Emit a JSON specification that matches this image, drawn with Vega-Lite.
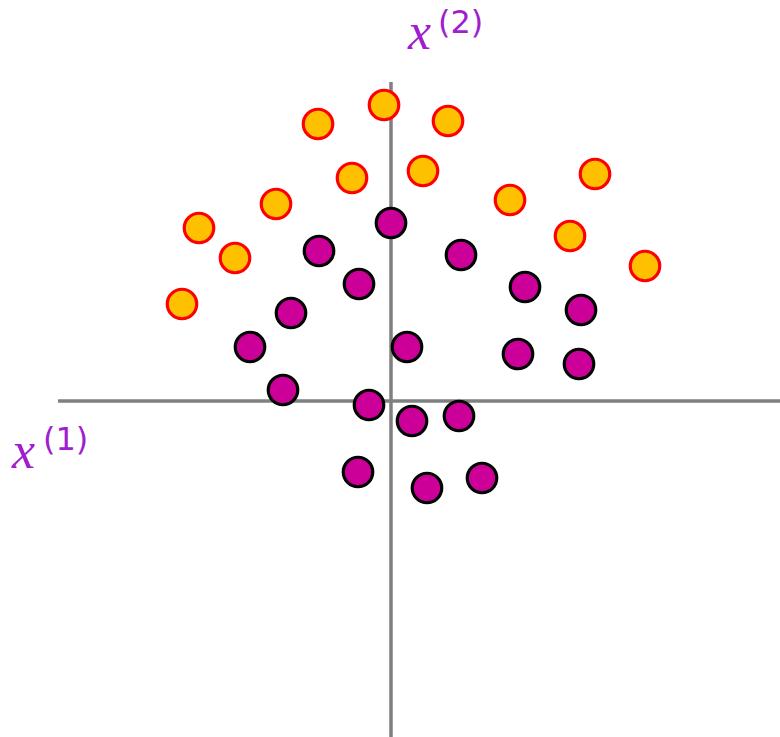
{
  "$schema": "https://vega.github.io/schema/vega-lite/v6.json",
  "width": 780,
  "height": 737,
  "autosize": "none",
  "padding": 0,
  "background": "white",
  "config": {"view": {"stroke": null}},
  "datasets": {
    "axes": [
      {"x1": -333, "x2": 389, "y1": 0, "y2": 0},
      {"x1": 0, "x2": 0, "y1": 319, "y2": -340}
    ],
    "points": [
      {"x1v": -7, "x2v": 296, "cls": "A"},
      {"x1v": -73, "x2v": 277, "cls": "A"},
      {"x1v": 57, "x2v": 280, "cls": "A"},
      {"x1v": -39, "x2v": 223, "cls": "A"},
      {"x1v": 32, "x2v": 230, "cls": "A"},
      {"x1v": -115, "x2v": 197, "cls": "A"},
      {"x1v": -192, "x2v": 173, "cls": "A"},
      {"x1v": -156, "x2v": 143, "cls": "A"},
      {"x1v": -209, "x2v": 97, "cls": "A"},
      {"x1v": 119, "x2v": 201, "cls": "A"},
      {"x1v": 204, "x2v": 227, "cls": "A"},
      {"x1v": 179, "x2v": 165, "cls": "A"},
      {"x1v": 254, "x2v": 135, "cls": "A"},
      {"x1v": 0, "x2v": 178, "cls": "B"},
      {"x1v": -72, "x2v": 150, "cls": "B"},
      {"x1v": 70, "x2v": 146, "cls": "B"},
      {"x1v": -32, "x2v": 117, "cls": "B"},
      {"x1v": 134, "x2v": 114, "cls": "B"},
      {"x1v": 190, "x2v": 91, "cls": "B"},
      {"x1v": -100, "x2v": 88, "cls": "B"},
      {"x1v": -141, "x2v": 54, "cls": "B"},
      {"x1v": 16, "x2v": 54, "cls": "B"},
      {"x1v": 127, "x2v": 47, "cls": "B"},
      {"x1v": 188, "x2v": 37, "cls": "B"},
      {"x1v": -108, "x2v": 11, "cls": "B"},
      {"x1v": -22, "x2v": -4, "cls": "B"},
      {"x1v": 21, "x2v": -20, "cls": "B"},
      {"x1v": 68, "x2v": -15, "cls": "B"},
      {"x1v": -33, "x2v": -71, "cls": "B"},
      {"x1v": 36, "x2v": -87, "cls": "B"},
      {"x1v": 91, "x2v": -77, "cls": "B"}
    ],
    "bigLabels": [
      {"lx": 17, "ly": 352, "t": "x"},
      {"lx": -379, "ly": -67, "t": "x"}
    ],
    "supLabels": [
      {"lx": 47, "ly": 368, "t": "(2)"},
      {"lx": -348, "ly": -49, "t": "(1)"}
    ]
  },
  "layer": [
    {
      "data": {"name": "axes"},
      "mark": {"type": "rule", "stroke": "#808080", "strokeWidth": 3.5},
      "encoding": {
        "x": {"field": "x1", "type": "quantitative", "scale": {"domain": [-391, 389], "range": [0, 780], "nice": false, "zero": false}, "axis": null},
        "x2": {"field": "x2"},
        "y": {"field": "y1", "type": "quantitative", "scale": {"domain": [-336, 401], "range": [737, 0], "nice": false, "zero": false}, "axis": null},
        "y2": {"field": "y2"}
      }
    },
    {
      "data": {"name": "points"},
      "mark": {"type": "point", "shape": "circle", "filled": true, "size": 870, "strokeWidth": 3.2, "opacity": 1, "fillOpacity": 1, "strokeOpacity": 1},
      "encoding": {
        "x": {"field": "x1v", "type": "quantitative", "axis": null},
        "y": {"field": "x2v", "type": "quantitative", "axis": null},
        "fill": {"field": "cls", "type": "nominal", "scale": {"domain": ["A", "B"], "range": ["#FFC000", "#CC0099"]}, "legend": null},
        "stroke": {"field": "cls", "type": "nominal", "scale": {"domain": ["A", "B"], "range": ["#FF0000", "#000000"]}, "legend": null}
      }
    },
    {
      "data": {"name": "bigLabels"},
      "mark": {"type": "text", "align": "left", "baseline": "alphabetic", "font": "Liberation Serif", "fontStyle": "italic", "fontSize": 52, "fill": "#A01ED0"},
      "encoding": {
        "x": {"field": "lx", "type": "quantitative", "axis": null},
        "y": {"field": "ly", "type": "quantitative", "axis": null},
        "text": {"field": "t"}
      }
    },
    {
      "data": {"name": "supLabels"},
      "mark": {"type": "text", "align": "left", "baseline": "alphabetic", "font": "DejaVu Sans", "fontSize": 32, "fill": "#A01ED0"},
      "encoding": {
        "x": {"field": "lx", "type": "quantitative", "axis": null},
        "y": {"field": "ly", "type": "quantitative", "axis": null},
        "text": {"field": "t"}
      }
    }
  ]
}
